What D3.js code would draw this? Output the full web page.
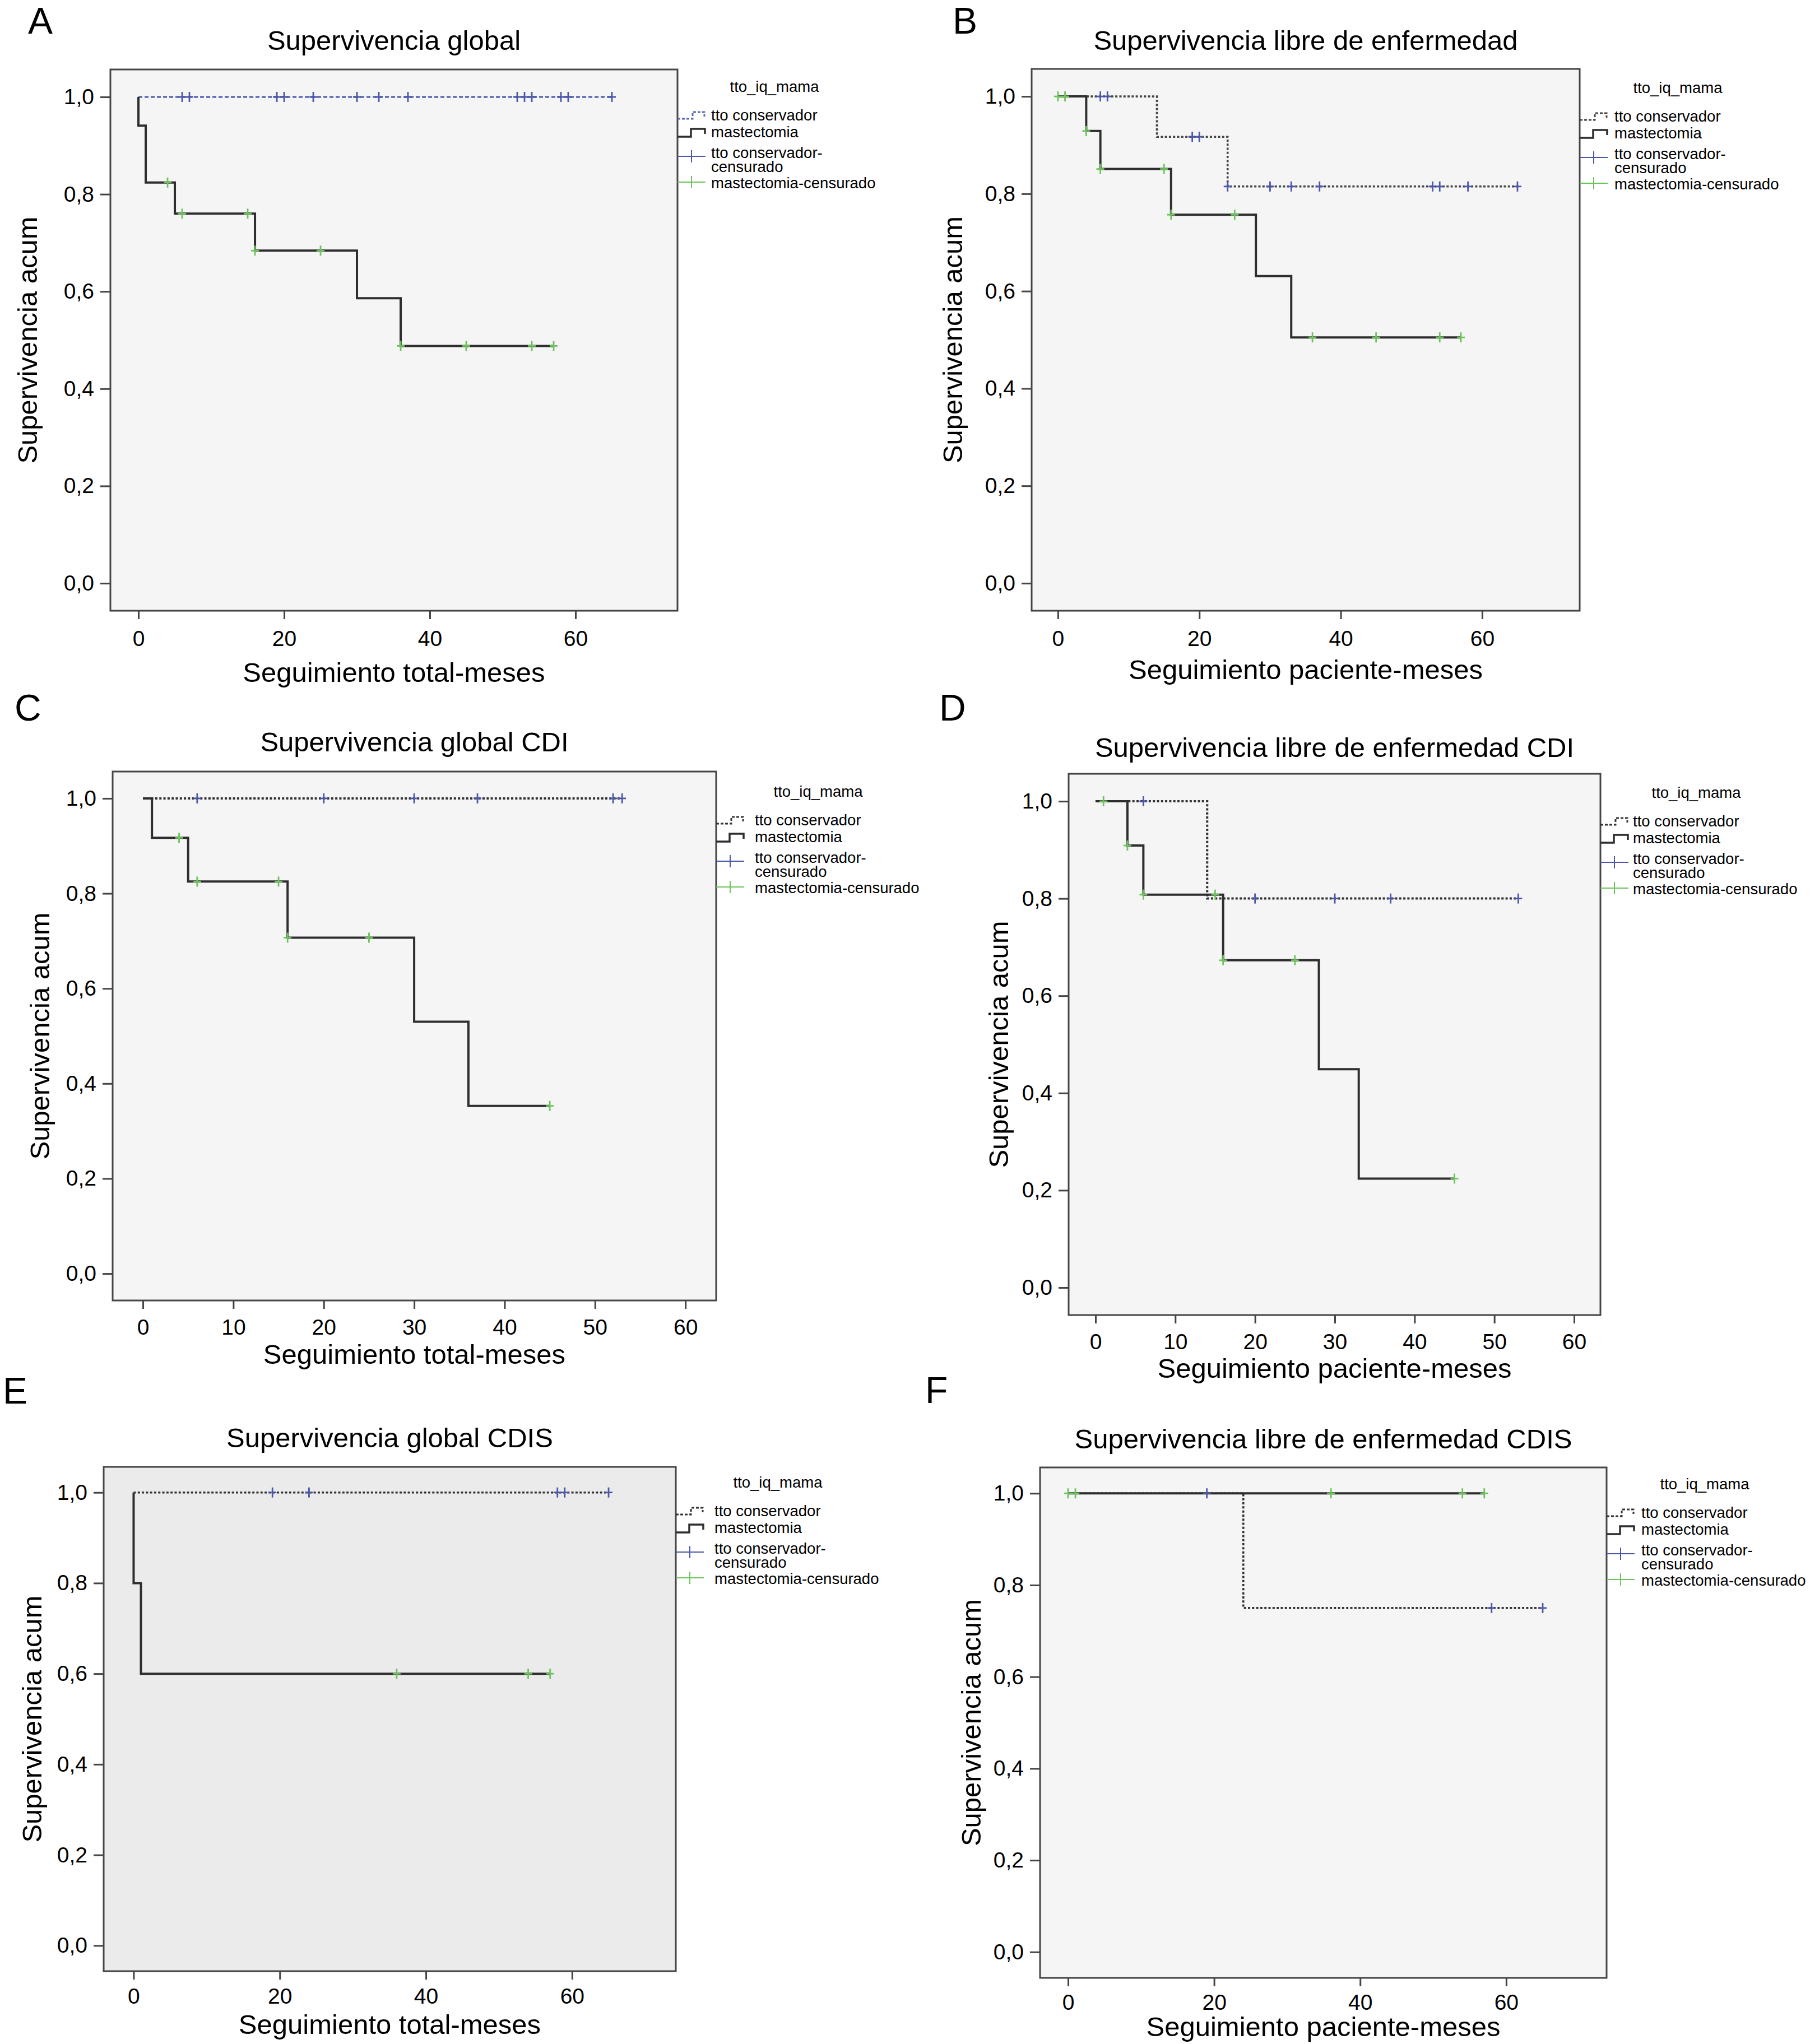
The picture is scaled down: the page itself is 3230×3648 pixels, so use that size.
<!DOCTYPE html>
<html lang="es">
<head>
<meta charset="utf-8">
<script src="https://d3js.org/d3.v7.min.js"></script>
<style>
  body { margin: 0; background: #fff; }
  text { font-family: "Liberation Sans", Arial, sans-serif; fill: #000; }
</style>
</head>
<body>
<script>
// ---------- data (time in months, cumulative survival) ----------
// steps: [time, survival from that time on]
var stepsA_cons = [[0, 1.0]];
var stepsA_mast = [[0, 1.0], [0, 0.941], [1, 0.824], [5, 0.760], [16, 0.684], [30, 0.586], [36, 0.488]];
var endA = [65, 57];
var censA_cons = [6, 7, 19, 20, 24, 30, 33, 37, 52, 53, 54, 58, 59, 65];
var censA_mast = [4, 6, 15, 16, 25, 36, 45, 54, 57];

var stepsB_cons = [[0, 1.0], [14, 0.917], [24, 0.815]];
var stepsB_mast = [[0, 1.0], [4, 0.929], [6, 0.851], [16, 0.757], [28, 0.631], [33, 0.505]];
var endB = [65, 57];
var censB_cons = [6, 7, 19, 20, 24, 30, 33, 37, 53, 54, 58, 65];
var censB_mast = [0, 1, 4, 6, 15, 16, 25, 36, 45, 54, 57];

var stepsC_cons = [[0, 1.0]];
var stepsC_mast = [[0, 1.0], [1, 0.917], [5, 0.825], [16, 0.707], [30, 0.530], [36, 0.353]];
var endC = [53, 45];
var censC_cons = [6, 20, 30, 37, 52, 53];
var censC_mast = [4, 6, 15, 16, 25, 45];

var stepsD_cons = [[0, 1.0], [14, 0.800]];
var stepsD_mast = [[0, 1.0], [4, 0.909], [6, 0.808], [16, 0.673], [28, 0.449], [33, 0.224]];
var endD = [53, 45];
var censD_cons = [6, 20, 30, 37, 53];
var censD_mast = [1, 4, 6, 15, 16, 25, 45];

var stepsE_cons = [[0, 1.0]];
var stepsE_mast = [[0, 1.0], [0, 0.8], [1, 0.6]];
var endE = [65, 57];
var censE_cons = [19, 24, 58, 59, 65];
var censE_mast = [36, 54, 57];

var stepsF_cons = [[0, 1.0], [24, 0.75]];
var stepsF_mast = [[0, 1.0]];
var endF = [65, 57];
var censF_cons = [19, 58, 65];
var censF_mast = [0, 1, 36, 54, 57];

var yTicks = [0, 0.2, 0.4, 0.6, 0.8, 1.0];
var xTicks20 = [0, 20, 40, 60];
var xTicks10 = [0, 10, 20, 30, 40, 50, 60];
var legendTitle = "tto_iq_mama";
var legendLabels = ["tto conservador", "mastectomia", "tto conservador-", "censurado", "mastectomia-censurado"];

// ---------- layout ----------
var panels = [
  {letter: "A", lx: 50, ly: 60, title: "Supervivencia global", xlab: "Seguimiento total-meses",
   x0: 197, x1: 1209, y0: 124, y1: 1090, xDom: [-3.85, 74], xt: xTicks20, pad: 20,
   tb: 89, xb: 1217, yx: 66, lgx: 1269, lgy: 164, bg: "#f5f5f5",
   consCol: "#5a68b4", consDash: "7,4", consW: 3.4,
   cons: stepsA_cons, mast: stepsA_mast, end: endA, cc: censA_cons, cm: censA_mast},
  {letter: "B", lx: 1700, ly: 60, title: "Supervivencia libre de enfermedad", xlab: "Seguimiento paciente-meses",
   x0: 1841, x1: 2819, y0: 123, y1: 1090, xDom: [-3.72, 73.8], xt: xTicks20, pad: 20,
   tb: 89, xb: 1212, yx: 1717, lgx: 2881, lgy: 166, bg: "#f5f5f5",
   consCol: "#444", consDash: "4,3.3", consW: 3.6,
   cons: stepsB_cons, mast: stepsB_mast, end: endB, cc: censB_cons, cm: censB_mast},
  {letter: "C", lx: 26, ly: 1286, title: "Supervivencia global CDI", xlab: "Seguimiento total-meses",
   x0: 201, x1: 1278, y0: 1377, y1: 2321, xDom: [-3.35, 63.4], xt: xTicks10, pad: 18,
   tb: 1341, xb: 2434, yx: 88, lgx: 1347, lgy: 1422, bg: "#f5f5f5",
   consCol: "#333", consDash: "4,3.3", consW: 4,
   cons: stepsC_cons, mast: stepsC_mast, end: endC, cc: censC_cons, cm: censC_mast},
  {letter: "D", lx: 1676, ly: 1286, title: "Supervivencia libre de enfermedad CDI", xlab: "Seguimiento paciente-meses",
   x0: 1907, x1: 2856, y0: 1381, y1: 2347, xDom: [-3.37, 63.3], xt: xTicks10, pad: 18,
   tb: 1351, xb: 2459, yx: 1799, lgx: 2914, lgy: 1424, bg: "#f5f5f5",
   consCol: "#333", consDash: "4,3.3", consW: 4,
   cons: stepsD_cons, mast: stepsD_mast, end: endD, cc: censD_cons, cm: censD_mast},
  {letter: "E", lx: 5, ly: 2505, title: "Supervivencia global CDIS", xlab: "Seguimiento total-meses",
   x0: 185, x1: 1206, y0: 2618, y1: 3518, xDom: [-4.1, 74.2], xt: xTicks20, pad: 15,
   tb: 2583, xb: 3630, yx: 74, lgx: 1275, lgy: 2655, bg: "#ebebeb",
   consCol: "#333", consDash: "4,3.3", consW: 3.6,
   cons: stepsE_cons, mast: stepsE_mast, end: endE, cc: censE_cons, cm: censE_mast},
  {letter: "F", lx: 1651, ly: 2504, title: "Supervivencia libre de enfermedad CDIS", xlab: "Seguimiento paciente-meses",
   x0: 1856, x1: 2867, y0: 2619, y1: 3530, xDom: [-3.84, 73.75], xt: xTicks20, pad: 14,
   tb: 2585, xb: 3634, yx: 1750, lgx: 2929, lgy: 2658, bg: "#f5f5f5",
   consCol: "#333", consDash: "4,3.3", consW: 3.6,
   cons: stepsF_cons, mast: stepsF_mast, end: endF, cc: censF_cons, cm: censF_mast}
];

var W = 3230, H = 3648;
var blue = "#4b57a8", green = "#6cc35c", dark = "#2e2e2e";

var svg = d3.select("body").append("svg")
    .attr("width", W).attr("height", H);

// value of a step curve at time t
function survAt(steps, t) {
  var v = steps[0][1];
  steps.forEach(function(s) { if (s[0] <= t) v = s[1]; });
  return v;
}

function drawPanel(p) {
  var g = svg.append("g");
  var x = d3.scaleLinear().domain(p.xDom).range([p.x0, p.x1]);
  var y = d3.scaleLinear().domain([-0.0565, 1.0565]).range([p.y1, p.y0]);

  g.append("text").attr("x", p.lx).attr("y", p.ly)
   .style("font-size", "66px").text(p.letter);

  // plot box
  g.append("rect").attr("x", p.x0).attr("y", p.y0)
   .attr("width", p.x1 - p.x0).attr("height", p.y1 - p.y0)
   .attr("fill", p.bg).attr("stroke", "#444").attr("stroke-width", 3);

  // axes
  var ya = g.append("g").attr("transform", "translate(" + p.x0 + ",0)")
    .call(d3.axisLeft(y).tickValues(yTicks).tickSize(18).tickPadding(11)
      .tickFormat(function(d) { return d3.format(".1f")(d).replace(".", ","); }));
  var xa = g.append("g").attr("transform", "translate(0," + p.y1 + ")")
    .call(d3.axisBottom(x).tickValues(p.xt).tickSize(15).tickPadding(p.pad)
      .tickFormat(d3.format("d")));
  [ya, xa].forEach(function(a) {
    a.select(".domain").remove();
    a.selectAll(".tick line").attr("stroke", "#444").attr("stroke-width", 3);
    a.selectAll(".tick text").style("font-size", "39px")
      .style("font-family", '"Liberation Sans", Arial, sans-serif').attr("fill", "#000");
  });

  // titles
  g.append("text").attr("x", (p.x0 + p.x1) / 2).attr("y", p.tb)
   .attr("text-anchor", "middle").style("font-size", "49px").text(p.title);
  g.append("text").attr("x", (p.x0 + p.x1) / 2).attr("y", p.xb)
   .attr("text-anchor", "middle").style("font-size", "49px").text(p.xlab);
  g.append("text").attr("transform", "translate(" + p.yx + "," + ((p.y0 + p.y1) / 2) + ") rotate(-90)")
   .attr("text-anchor", "middle").style("font-size", "49px").text("Supervivencia acum");

  // survival curves
  var line = d3.line().curve(d3.curveStepAfter)
      .x(function(d) { return x(d[0]); }).y(function(d) { return y(d[1]); });
  var consPts = p.cons.concat([[p.end[0], p.cons[p.cons.length - 1][1]]]);
  var mastPts = p.mast.concat([[p.end[1], p.mast[p.mast.length - 1][1]]]);

  g.append("path").datum(consPts).attr("d", line).attr("fill", "none")
   .attr("stroke", p.consCol).attr("stroke-width", p.consW).attr("stroke-dasharray", p.consDash);
  g.append("path").datum(mastPts).attr("d", line).attr("fill", "none")
   .attr("stroke", dark).attr("stroke-width", 4);

  function censor(times, steps, col) {
    var c = g.append("g").attr("stroke", col).attr("stroke-width", 2.8);
    times.forEach(function(t) {
      var cx = x(t), cy = y(survAt(steps, t));
      c.append("line").attr("x1", cx).attr("x2", cx).attr("y1", cy - 9).attr("y2", cy + 9);
      c.append("line").attr("x1", cx - 7).attr("x2", cx + 7).attr("y1", cy).attr("y2", cy);
    });
  }
  censor(p.cc, p.cons, blue);
  censor(p.cm, p.mast, green);

  // legend
  var lg = g.append("g");
  var sx = p.x1, tx = p.lgx, hy = p.lgy;
  lg.append("text").attr("x", tx + 113).attr("y", hy).attr("text-anchor", "middle")
    .style("font-size", "27.5px").text(legendTitle);
  var by = [hy + 51, hy + 81, hy + 118, hy + 143, hy + 172];
  legendLabels.forEach(function(s, i) {
    lg.append("text").attr("x", tx).attr("y", by[i]).style("font-size", "27.5px").text(s);
  });
  lg.append("path").attr("fill", "none").attr("stroke", p.consCol).attr("stroke-width", 3)
    .attr("stroke-dasharray", "5,3")
    .attr("d", "M" + sx + "," + (by[0] - 3) + "H" + (sx + 27) + "V" + (by[0] - 15) + "H" + (sx + 48) + "V" + (by[0] - 7));
  lg.append("path").attr("fill", "none").attr("stroke", dark).attr("stroke-width", 3.5)
    .attr("d", "M" + sx + "," + (by[1] - 1) + "H" + (sx + 24) + "V" + (by[1] - 15) + "H" + (sx + 49) + "V" + (by[1] - 6));
  [[by[2] - 3, blue], [by[4] - 11, green]].forEach(function(m) {
    lg.append("line").attr("x1", sx).attr("x2", sx + 50).attr("y1", m[0]).attr("y2", m[0])
      .attr("stroke", m[1]).attr("stroke-width", 2);
    lg.append("line").attr("x1", sx + 25).attr("x2", sx + 25).attr("y1", m[0] - 11).attr("y2", m[0] + 11)
      .attr("stroke", m[1]).attr("stroke-width", 2);
  });
}

panels.forEach(drawPanel);
</script>
</body>
</html>
